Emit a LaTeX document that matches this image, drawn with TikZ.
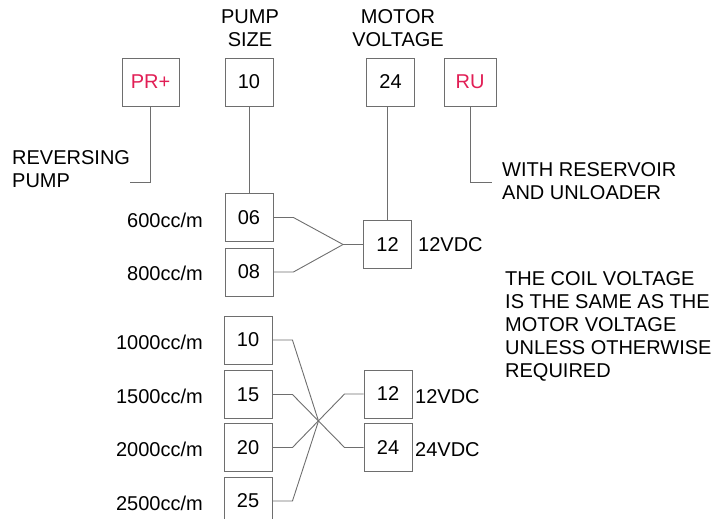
\documentclass[tikz,border=0pt]{standalone}
\usepackage{fontspec}
\setmainfont{Liberation Sans}
\usepackage{tikz}
\usetikzlibrary{calc, positioning}
\definecolor{wiregray}{RGB}{110,110,110}
\definecolor{codered}{RGB}{225,30,85}

\begin{document}
\begin{tikzpicture}[
  x=1pt, y=-1pt,
  every node/.style={font=\fontsize{20}{23}\selectfont, inner sep=0pt},
  codebox/.style={draw=wiregray, line width=0.9pt, minimum width=48pt, minimum height=48pt},
  optbox/.style={codebox, text=codered},
  flowlbl/.style={anchor=east},
  note/.style={anchor=west, align=left},
  wire/.style={draw=wiregray, line width=0.9pt}
]
\clip (0,0) rectangle (720,519);
% top row
\node[align=center] (hsize) at (250,28.5) {PUMP\\SIZE};
\node[align=center] (hvolt) at (398,28.5) {MOTOR\\VOLTAGE};
\node[optbox, minimum width=57pt] (pr) at (150.5,82) {PR+};
\node[codebox] (size) at (249,82) {10};
\node[codebox] (volt) at (390.5,82) {24};
\node[optbox, minimum width=52pt] (ru) at (470,82) {RU};
\node[note] (revtxt) at (12,169.5) {REVERSING\\PUMP};
\node[note] (rutxt) at (502,181) {WITH RESERVOIR\\AND UNLOADER};
\coordinate (prend) at (130,182);
\coordinate (ruend) at (492,182);
\draw[wire] (pr.south) |- (prend);
\draw[wire] (ru.south) |- (ruend);
% small pumps
\node[codebox] (s06) at (249,217.5) {06};
\node[codebox] (s08) at (249,272) {08};
\node[flowlbl] (f06) at (203,220) {600cc/m};
\node[flowlbl] (f08) at (203,273) {800cc/m};
\node[codebox] (m12) at (387.5,244.5) {12};
\node[anchor=west] (v12) at (418,245) {12VDC};
\draw[wire] (size.south) -- (s06.north);
\draw[wire] (volt.south -| m12.north) -- (m12.north);
\coordinate (fan) at ([xshift=-20pt]m12.west);
\draw[wire] (s06.east) -- ++(20,0) -- (fan) -- (m12.west);
\draw[wire] (s08.east) -- ++(20,0) -- (fan);
\node[note] (coil) at (505,326)
  {THE COIL VOLTAGE\\IS THE SAME AS THE\\MOTOR VOLTAGE\\UNLESS OTHERWISE\\REQUIRED};
% large pumps
\foreach \n/\yy/\flow in {10/340/1000, 15/394.5/1500, 20/447.5/2000, 25/501/2500}{
  \node[codebox] (s\n) at (248,\yy) {\n};
  \node[flowlbl] (f\n) at (203,\yy+2) {\flow cc/m};
}
\node[codebox] (c12) at (388,394) {12};
\node[codebox] (c24) at (388,447.5) {24};
\node[anchor=west] (v12b) at (415,397) {12VDC};
\node[anchor=west] (v24) at (415,450) {24VDC};
\coordinate (jct) at ($([xshift=20pt]s15.east)!0.5!([xshift=-19pt]c24.west)$);
\draw[wire] (s15.east) -- ++(20,0) -- ([xshift=-19pt]c24.west) -- (c24.west);
\draw[wire] (s20.east) -- ++(20,0) -- ([xshift=-19pt]c12.west) -- (c12.west);
\draw[wire] (s10.east) -- ++(20,0) -- (jct);
\draw[wire] (s25.east) -- ++(20,0) -- (jct);
\end{tikzpicture}
\end{document}
